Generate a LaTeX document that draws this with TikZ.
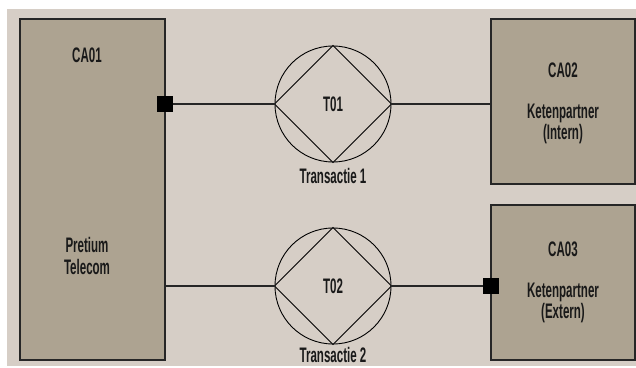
\documentclass[tikz,border=0pt]{standalone}
\usepackage{fontspec}
\setmainfont{Liberation Sans}[FakeStretch=0.55]
\begin{document}
\begin{tikzpicture}[x=1pt,y=-1pt,
  ca/.style={draw=black!85,line width=1.2pt,fill=boxfill},
  txt/.style={text=black!90,font=\bfseries\fontsize{21}{21.5}\selectfont,align=center,inner sep=0pt},
  tcirc/.style={draw=black,line width=0.9pt,circle,minimum size=116pt,inner sep=0pt},
  conn/.style={draw=black!85,line width=1.1pt},
  port/.style={fill=black,minimum size=16pt,inner sep=0pt}]
\definecolor{bgc}{HTML}{D6CEC6}
\definecolor{boxfill}{HTML}{ADA391}
\useasboundingbox (0,0) rectangle (636,367);
\fill[bgc] (7,9) rectangle (636,366);
% boxes
\draw[ca] (20,19) rectangle (165,360);
\draw[ca] (491,19) rectangle (635,184);
\draw[ca] (491,205) rectangle (635,360);
\coordinate (ca1a) at (165,104);
\coordinate (ca1b) at (165,286);
\coordinate (ca2) at (491,104);
\coordinate (ca3) at (491,286);
% texts
\node[txt] (t1) at (87,55) {CA01};
\node[txt] (t2) at (87,256) {Pretium\\Telecom};
\node[txt] (t3) at (563,70) {CA02};
\node[txt] (t4) at (563,124) {Ketenpartner\\(Intern)};
\node[txt] (t5) at (563,249) {CA03};
\node[txt] (t6) at (563,303) {Ketenpartner\\(Extern)};
% transactions
\node[tcirc] (T1) at (333,104) {};
\node[tcirc] (T2) at (333,286) {};
\draw[line width=0.9pt] (T1.north) -- (T1.east) -- (T1.south) -- (T1.west) -- cycle;
\draw[line width=0.9pt] (T2.north) -- (T2.east) -- (T2.south) -- (T2.west) -- cycle;
\node[txt] (l1) at (333,104) {T01};
\node[txt] (l2) at (333,286) {T02};
\node[txt] (c1) at (333,175.5) {Transactie 1};
\node[txt] (c2) at (333,355) {Transactie 2};
% connectors
\draw[conn] (ca1a) -- (T1.west);
\draw[conn] (T1.east) -- (ca2);
\draw[conn] (ca1b) -- (T2.west);
\draw[conn] (T2.east) -- (ca3);
\node[port] (p1) at (ca1a) {};
\node[port] (p2) at (ca3) {};
\end{tikzpicture}
\end{document}
